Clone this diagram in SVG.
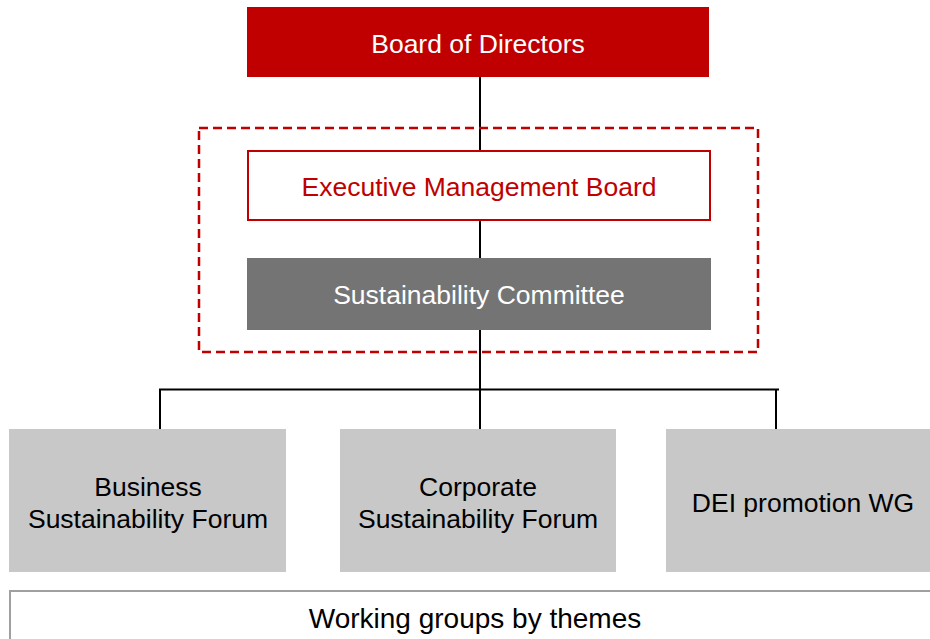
<svg xmlns="http://www.w3.org/2000/svg" width="930" height="639" viewBox="0 0 930 639">
<style>
text{font-family:"Liberation Sans",Arial,sans-serif;font-size:26.5px;text-anchor:middle}
.conn{stroke:#000;stroke-width:2;fill:none}
.forum{fill:#c8c8c8}
.dark{fill:#000}
</style>
<rect width="930" height="639" fill="#fff"/>
<g id="connectors">
<line class="conn" x1="480" y1="77" x2="480" y2="429"/>
<polyline class="conn" points="160,429 160,389.5 779,389.5"/>
<line class="conn" x1="776" y1="389" x2="776" y2="429"/>
</g>
<g id="exec-group">
<rect x="199" y="128" width="559" height="224" fill="none" stroke="#c00000" stroke-width="2.5" stroke-dasharray="9,5"/>
</g>
<g id="board">
<rect x="247" y="7" width="462" height="70" fill="#c00000"/>
<text x="478" y="53" fill="#fff">Board of Directors</text>
</g>
<g id="emb">
<rect x="248" y="151" width="462" height="69" fill="#fff" stroke="#c00000" stroke-width="2"/>
<text x="479" y="196" fill="#c00000">Executive Management Board</text>
</g>
<g id="sc">
<rect x="247" y="258" width="464" height="72" fill="#747474"/>
<text x="479" y="304" fill="#fff">Sustainability Committee</text>
</g>
<g id="bsf">
<rect class="forum" x="9" y="429" width="277" height="143"/>
<text class="dark" x="148" y="496">Business</text>
<text class="dark" x="148" y="528">Sustainability Forum</text>
</g>
<g id="csf">
<rect class="forum" x="340" y="429" width="276" height="143"/>
<text class="dark" x="478" y="496">Corporate</text>
<text class="dark" x="478" y="528">Sustainability Forum</text>
</g>
<g id="dei">
<rect class="forum" x="666" y="429" width="270" height="143"/>
<text class="dark" x="803" y="512">DEI promotion WG</text>
</g>
<g id="wg">
<rect x="10" y="591" width="930" height="60" fill="#fff" stroke="#a0a0a0" stroke-width="2"/>
<text class="dark" x="475" y="628" style="font-size:28px">Working groups by themes</text>
</g>
</svg>
